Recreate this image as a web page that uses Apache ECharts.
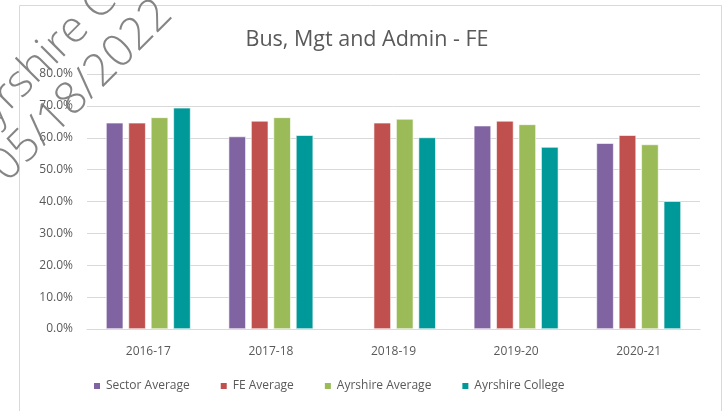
<!DOCTYPE html>
<html>
<head>
<meta charset="utf-8">
<script src="https://cdn.jsdelivr.net/npm/echarts@6/dist/echarts.min.js"></script>
<style>
  html, body { margin: 0; padding: 0; background: #fff; }
  #chart { width: 725px; height: 411px; }
</style>
</head>
<body>
<div id="chart"></div>
<script>
// data (percent)
const years = ['2016-17', '2017-18', '2018-19', '2019-20', '2020-21']
const sectorAverage = [64.7, 60.4, null, 63.8, 58.3]
const feAverage = [64.7, 65.3, 64.7, 65.3, 60.8]
const ayrshireAverage = [66.4, 66.4, 65.9, 64.2, 57.9]
const ayrshireCollege = [69.4, 60.8, 60.1, 57.1, 40.1]
const yTicks = { min: 0, max: 80, step: 10 }

const textColor = '#595959'
const font = 'Open Sans'

const chart = echarts.init(document.getElementById('chart'))

function bar(name, data, color) {
  return {
    name: name,
    type: 'bar',
    data: data,
    barGap: '30%',
    barCategoryGap: '31%',
    itemStyle: { color: color, borderColor: '#fff', borderWidth: 0.6 }
  }
}

const option = {
  animation: false,
  backgroundColor: '#fff',
  title: {
    text: 'Bus, Mgt and Admin - FE',
    left: 362,
    textAlign: 'center',
    top: 24,
    textStyle: { color: textColor, fontFamily: font, fontSize: 21.5, fontWeight: 'normal' }
  },
  grid: { left: 87, right: 25, top: 74, bottom: 82 },
  legend: {
    bottom: 14,
    left: 87,
    itemWidth: 8,
    itemHeight: 8,
    itemGap: 29,
    icon: 'rect',
    textStyle: { color: textColor, fontFamily: font, fontSize: 12 }
  },
  xAxis: {
    type: 'category',
    data: years,
    axisLine: { lineStyle: { color: '#d9d9d9', width: 1 } },
    axisTick: { show: false },
    axisLabel: { color: textColor, fontFamily: font, fontSize: 12, margin: 17 }
  },
  yAxis: {
    type: 'value',
    min: yTicks.min,
    max: yTicks.max,
    interval: yTicks.step,
    axisLine: { show: false },
    axisTick: { show: false },
    splitLine: { lineStyle: { color: '#d9d9d9', width: 1 } },
    axisLabel: {
      color: textColor, fontFamily: font, fontSize: 12, margin: 14,
      formatter: v => v.toFixed(1) + '%'
    }
  },
  series: [
    bar('Sector Average', sectorAverage, '#8064a2'),
    bar('FE Average', feAverage, '#c0504d'),
    bar('Ayrshire Average', ayrshireAverage, '#9bbb59'),
    bar('Ayrshire College', ayrshireCollege, '#009999')
  ],
  graphic: [
    // chart frame
    {
      type: 'rect',
      shape: { x: 19.5, y: 5.5, width: 702, height: 420 },
      style: { fill: 'none', stroke: '#d9d9d9', lineWidth: 1 },
      silent: true,
      z: -1
    },
    // watermark
    {
      type: 'text',
      x: -17, y: 151,
      rotation: Math.PI / 4,
      style: {
        text: 'Ayrshire College', fill: 'rgba(120,120,120,0.9)',
        font: '300 44px "Open Sans"', textAlign: 'left', textVerticalAlign: 'bottom'
      },
      silent: true,
      z: 100
    },
    {
      type: 'text',
      x: 14, y: 190,
      rotation: Math.PI / 4,
      style: {
        text: '05/18/2022', fill: 'rgba(120,120,120,0.9)',
        font: '300 45px "Open Sans"', textAlign: 'left', textVerticalAlign: 'bottom'
      },
      silent: true,
      z: 100
    }
  ]
}

chart.setOption(option)
</script>
</body>
</html>
